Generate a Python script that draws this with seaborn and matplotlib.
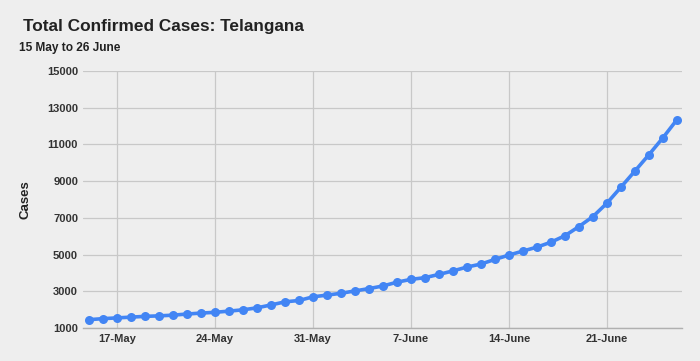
import matplotlib
matplotlib.use("Agg")
import matplotlib.pyplot as plt
import matplotlib.dates as mdates
import seaborn as sns
import pandas as pd
import numpy as np

# ---- data ----
start_date = "2020-05-15"
cases = [1454, 1509, 1551, 1592, 1634, 1661, 1699, 1761, 1813, 1854,
         1920, 1991, 2098, 2256, 2425, 2499, 2698, 2792, 2891, 3020,
         3147, 3290, 3496, 3650, 3742, 3920, 4111, 4320, 4484, 4737,
         4974, 5193, 5406, 5675, 6027, 6526, 7072, 7802, 8674, 9553,
         10444, 11364, 12349]
tick_dates = ["2020-05-17", "2020-05-24", "2020-05-31", "2020-06-07", "2020-06-14", "2020-06-21"]
tick_labels = ["17-May", "24-May", "31-May", "7-June", "14-June", "21-June"]
y_ticks = [1000, 3000, 5000, 7000, 9000, 11000, 13000, 15000]

title = "Total Confirmed Cases: Telangana"
subtitle = "15 May to 26 June"
y_label = "Cases"

dates = pd.date_range(start_date, periods=len(cases), freq="D")
df = pd.DataFrame({"date": dates, "cases": cases})

bg = "#eeeeee"
blue = "#4285f4"

sns.set_theme(style="white")
plt.rcParams['font.family'] = ['Liberation Sans', 'DejaVu Sans']

fig = plt.figure(figsize=(7.0, 3.61), dpi=100)
fig.patch.set_facecolor(bg)
ax = fig.add_axes([83/700, 1-328/361, (682-83)/700, (328-71)/361])
ax.set_facecolor(bg)

sns.lineplot(data=df, x="date", y="cases", ax=ax, color=blue, linewidth=2.6,
             marker="o", markersize=6.5, markeredgewidth=0, zorder=3)

x0 = mdates.date2num(dates[0]) - 0.43
x1 = mdates.date2num(dates[-1]) + 0.36
ax.set_xlim(x0, x1)
ax.set_ylim(1000, 15000)

ax.set_xticks(pd.to_datetime(tick_dates))
ax.set_xticklabels(tick_labels, fontsize=8, fontweight="bold", color="#333333")
ax.set_yticks(y_ticks)
ax.set_yticklabels([str(v) for v in y_ticks], fontsize=8, fontweight="bold", color="#333333")

ax.grid(True, color="#c8c8c8", linewidth=0.9)
ax.set_axisbelow(True)
for s in ["top", "right", "left"]:
    ax.spines[s].set_visible(False)
ax.spines["bottom"].set_color("#b0b0b0")
ax.spines["bottom"].set_linewidth(1.0)
ax.tick_params(axis="both", length=0)
ax.tick_params(axis="x", pad=4)
ax.tick_params(axis="y", pad=3.6)

ax.set_xlabel("")
ax.set_ylabel(y_label, fontsize=9.5, fontweight="bold", color="#222222", labelpad=11)

fig.text(23/700, 1-26/361, title, fontsize=12.4, fontweight="bold", color="#222222",
         ha="left", va="center")
fig.text(19/700, 1-48/361, subtitle, fontsize=8.6, fontweight="bold", color="#222222",
         ha="left", va="center")

fig.savefig("out.png", dpi=100, facecolor=bg)
